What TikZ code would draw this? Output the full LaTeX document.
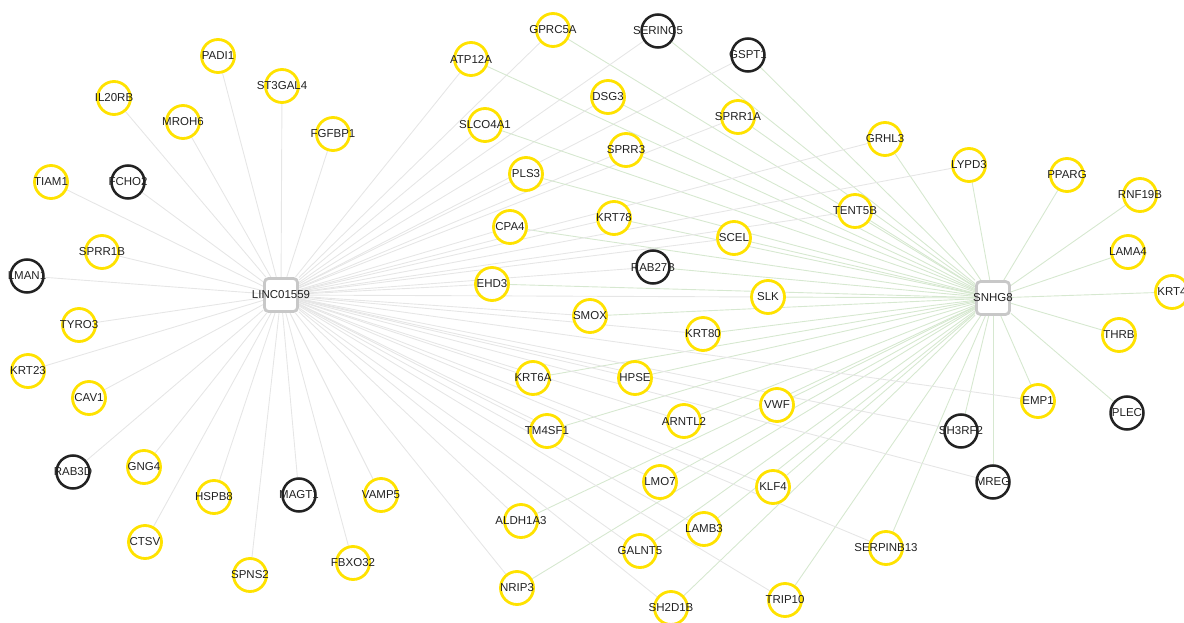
\documentclass[tikz,border=0pt]{standalone}
\usepackage{fontspec}
\setmainfont{Liberation Sans}
\usetikzlibrary{backgrounds}
\definecolor{colorgene}{RGB}{255,226,0}
\definecolor{colorhub} {RGB}{200,200,200}
\definecolor{colorlinc}{RGB}{230,230,230}
\definecolor{colorsnhg}{RGB}{214,232,208}
\definecolor{colortext}{RGB}{34 ,34 ,34 }
\newcommand{\genetxt}[1]{\makebox[0pt]{#1}}

\begin{document}
\begin{tikzpicture}[
    x=1pt, y=-1pt,
    font={\fontsize{11.5}{13}\selectfont},
    base/.style={circle,fill=white,text=colortext,minimum size=33pt,inner sep=0pt},
    gene/.style={base,draw=colorgene,line width=2.8pt},
    other/.style={base,draw=colortext,line width=2.5pt},
    hub/.style={base,rectangle,rounded corners=4pt,draw=colorhub,line width=2.8pt},
    linc/.style={colorlinc,line width=0.9pt},
    snhg/.style={colorsnhg,line width=0.9pt},
]
    \useasboundingbox (0,0) rectangle (1184,623);

    % Hubs
    \node[hub] (linc) at (281,295) {\genetxt{LINC01559}};
    \node[hub] (snhg) at (993,298) {\genetxt{SNHG8}};

    % LINC01559 only
    \node[gene]  (padi1)   at (218,56)  {\genetxt{PADI1}};
    \node[gene]  (st3gal4) at (282,86)  {\genetxt{ST3GAL4}};
    \node[gene]  (il20rb)  at (114,98)  {\genetxt{IL20RB}};
    \node[gene]  (mroh6)   at (183,122) {\genetxt{MROH6}};
    \node[gene]  (fgfbp1)  at (333,134) {\genetxt{FGFBP1}};
    \node[gene]  (tiam1)   at (51,182)  {\genetxt{TIAM1}};
    \node[other] (fcho2)   at (128,182) {\genetxt{FCHO2}};
    \node[gene]  (sprr1b)  at (102,252) {\genetxt{SPRR1B}};
    \node[other] (lman1)   at (27,276)  {\genetxt{LMAN1}};
    \node[gene]  (tyro3)   at (79,325)  {\genetxt{TYRO3}};
    \node[gene]  (krt23)   at (28,371)  {\genetxt{KRT23}};
    \node[gene]  (cav1)    at (89,398)  {\genetxt{CAV1}};
    \node[other] (rab3d)   at (73,472)  {\genetxt{RAB3D}};
    \node[gene]  (gng4)    at (144,467) {\genetxt{GNG4}};
    \node[gene]  (hspb8)   at (214,497) {\genetxt{HSPB8}};
    \node[other] (magt1)   at (299,495) {\genetxt{MAGT1}};
    \node[gene]  (vamp5)   at (381,495) {\genetxt{VAMP5}};
    \node[gene]  (ctsv)    at (145,542) {\genetxt{CTSV}};
    \node[gene]  (spns2)   at (250,575) {\genetxt{SPNS2}};
    \node[gene]  (fbxo32)  at (353,563) {\genetxt{FBXO32}};

    % Shared
    \node[gene]  (gprc5a)    at (553,30)  {\genetxt{GPRC5A}};
    \node[other] (serinc5)   at (658,31)  {\genetxt{SERINC5}};
    \node[other] (gspt1)     at (748,55)  {\genetxt{GSPT1}};
    \node[gene]  (atp12a)    at (471,59)  {\genetxt{ATP12A}};
    \node[gene]  (dsg3)      at (608,97)  {\genetxt{DSG3}};
    \node[gene]  (sprr1a)    at (738,117) {\genetxt{SPRR1A}};
    \node[gene]  (slco4a1)   at (485,125) {\genetxt{SLCO4A1}};
    \node[gene]  (sprr3)     at (626,150) {\genetxt{SPRR3}};
    \node[gene]  (pls3)      at (526,174) {\genetxt{PLS3}};
    \node[gene]  (krt78)     at (614,218) {\genetxt{KRT78}};
    \node[gene]  (cpa4)      at (510,227) {\genetxt{CPA4}};
    \node[gene]  (scel)      at (734,238) {\genetxt{SCEL}};
    \node[other] (rab27b)    at (653,267) {\genetxt{RAB27B}};
    \node[gene]  (ehd3)      at (492,284) {\genetxt{EHD3}};
    \node[gene]  (slk)       at (768,297) {\genetxt{SLK}};
    \node[gene]  (smox)      at (590,316) {\genetxt{SMOX}};
    \node[gene]  (krt80)     at (703,334) {\genetxt{KRT80}};
    \node[gene]  (krt6a)     at (533,378) {\genetxt{KRT6A}};
    \node[gene]  (hpse)      at (635,378) {\genetxt{HPSE}};
    \node[gene]  (vwf)       at (777,405) {\genetxt{VWF}};
    \node[gene]  (arntl2)    at (684,421) {\genetxt{ARNTL2}};
    \node[gene]  (tm4sf1)    at (547,431) {\genetxt{TM4SF1}};
    \node[gene]  (lmo7)      at (660,482) {\genetxt{LMO7}};
    \node[gene]  (klf4)      at (773,487) {\genetxt{KLF4}};
    \node[gene]  (aldh1a3)   at (521,521) {\genetxt{ALDH1A3}};
    \node[gene]  (lamb3)     at (704,529) {\genetxt{LAMB3}};
    \node[gene]  (galnt5)    at (640,551) {\genetxt{GALNT5}};
    \node[gene]  (nrip3)     at (517,588) {\genetxt{NRIP3}};
    \node[gene]  (sh2d1b)    at (671,608) {\genetxt{SH2D1B}};
    \node[gene]  (trip10)    at (785,600) {\genetxt{TRIP10}};
    \node[gene]  (grhl3)     at (885,139) {\genetxt{GRHL3}};
    \node[gene]  (tent5b)    at (855,211) {\genetxt{TENT5B}};
    \node[gene]  (lypd3)     at (969,165) {\genetxt{LYPD3}};
    \node[gene]  (serpinb13) at (886,548) {\genetxt{SERPINB13}};
    \node[other] (sh3rf2)    at (961,431) {\genetxt{SH3RF2}};
    \node[other] (mreg)      at (993,482) {\genetxt{MREG}};
    \node[gene]  (emp1)      at (1038,401) {\genetxt{EMP1}};

    % SNHG8 only
    \node[gene]  (pparg)  at (1067,175) {\genetxt{PPARG}};
    \node[gene]  (rnf19b) at (1140,195) {\genetxt{RNF19B}};
    \node[gene]  (lama4)  at (1128,252) {\genetxt{LAMA4}};
    \node[gene]  (krt4)   at (1172,292) {\genetxt{KRT4}};
    \node[gene]  (thrb)   at (1119,335) {\genetxt{THRB}};
    \node[other] (plec)   at (1127,413) {\genetxt{PLEC}};

    % Edges
    \begin{scope}[on background layer]
        \foreach \g in {padi1,st3gal4,il20rb,mroh6,fgfbp1,tiam1,fcho2,sprr1b,lman1,tyro3,
            krt23,cav1,rab3d,gng4,hspb8,magt1,vamp5,ctsv,spns2,fbxo32}
            \draw[linc] (linc) -- (\g);
        \foreach \g in {gprc5a,serinc5,gspt1,atp12a,dsg3,sprr1a,slco4a1,sprr3,pls3,krt78,
            cpa4,scel,rab27b,ehd3,slk,smox,krt80,krt6a,hpse,vwf,arntl2,tm4sf1,lmo7,klf4,
            aldh1a3,lamb3,galnt5,nrip3,sh2d1b,trip10,grhl3,tent5b,lypd3,serpinb13,sh3rf2,
            mreg,emp1}
            {\draw[linc] (linc) -- (\g); \draw[snhg] (snhg) -- (\g);}
        \foreach \g in {pparg,rnf19b,lama4,krt4,thrb,plec}
            \draw[snhg] (snhg) -- (\g);
    \end{scope}

\end{tikzpicture}
\end{document}
